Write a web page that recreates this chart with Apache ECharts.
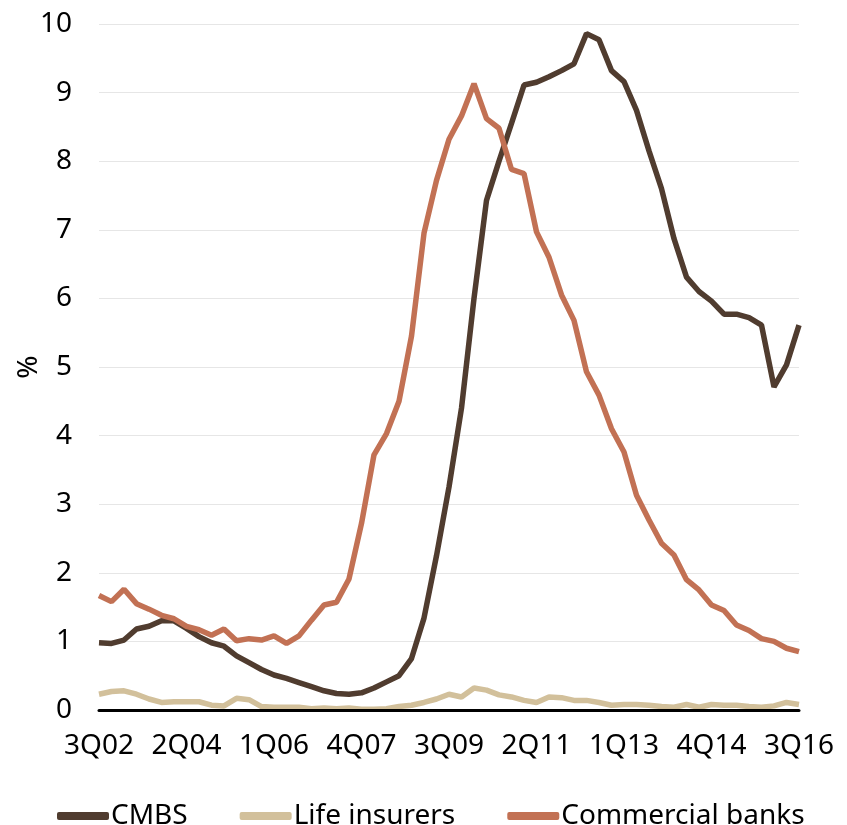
<!DOCTYPE html>
<html>
<head>
<meta charset="utf-8">
<script src="https://cdn.jsdelivr.net/npm/echarts@6/dist/echarts.min.js"></script>
<style>
  html, body { margin: 0; padding: 0; background: #ffffff; }
  #chart { width: 847px; height: 825px; }
</style>
</head>
<body>
<div id="chart"></div>
<script>
// Quarterly delinquency rates, 3Q02 – 3Q16 (%)
const quarters = (function () {
  const out = [];
  let q = 3, y = 2;
  for (let i = 0; i < 57; i++) {
    out.push(q + 'Q' + String(y).padStart(2, '0'));
    q++;
    if (q > 4) { q = 1; y++; }
  }
  return out;
})();

const cmbs = [
  0.98, 0.97, 1.02, 1.18, 1.22, 1.30, 1.30, 1.19, 1.07, 0.98,
  0.93, 0.79, 0.69, 0.59, 0.51, 0.46, 0.40, 0.34, 0.28, 0.24,
  0.23, 0.25, 0.32, 0.41, 0.50, 0.75, 1.34, 2.25, 3.25, 4.40,
  6.00, 7.43, 8.00, 8.55, 9.11, 9.15, 9.23, 9.32, 9.42, 9.86,
  9.77, 9.32, 9.16, 8.74, 8.15, 7.60, 6.87, 6.31, 6.10, 5.96,
  5.77, 5.77, 5.72, 5.61, 4.71, 5.03, 5.61
];

const lifeInsurers = [
  0.23, 0.27, 0.28, 0.23, 0.16, 0.11, 0.12, 0.12, 0.12, 0.07,
  0.06, 0.17, 0.15, 0.05, 0.04, 0.04, 0.04, 0.02, 0.03, 0.02,
  0.03, 0.01, 0.01, 0.02, 0.05, 0.07, 0.11, 0.16, 0.23, 0.19,
  0.32, 0.29, 0.22, 0.19, 0.14, 0.11, 0.19, 0.18, 0.14, 0.14,
  0.11, 0.07, 0.08, 0.08, 0.07, 0.05, 0.04, 0.08, 0.04, 0.08,
  0.07, 0.07, 0.05, 0.04, 0.06, 0.11, 0.08
];

const commercialBanks = [
  1.67, 1.58, 1.76, 1.55, 1.47, 1.38, 1.33, 1.22, 1.17, 1.09,
  1.18, 1.01, 1.04, 1.02, 1.08, 0.97, 1.08, 1.31, 1.53, 1.57,
  1.91, 2.72, 3.72, 4.03, 4.50, 5.45, 6.95, 7.72, 8.32, 8.66,
  9.13, 8.62, 8.48, 7.88, 7.82, 6.97, 6.60, 6.05, 5.68, 4.93,
  4.59, 4.10, 3.76, 3.13, 2.77, 2.43, 2.26, 1.90, 1.75, 1.53,
  1.45, 1.24, 1.16, 1.04, 1.00, 0.90, 0.85
];

const seriesNames = ['CMBS', 'Life insurers', 'Commercial banks'];
const seriesColors = ['#503c2f', '#d2c09b', '#c27154'];
const seriesData = [cmbs, lifeInsurers, commercialBanks];

const FONT = '"Noto Sans", "DejaVu Sans", sans-serif';
const FONT_SIZE = 28;

const chart = echarts.init(document.getElementById('chart'), null, { renderer: 'canvas' });

chart.setOption({
  animation: false,
  backgroundColor: '#ffffff',
  grid: { left: 99, right: 48, top: 24, bottom: 115, containLabel: false },
  legend: {
    top: 797,
    left: 52,
    itemWidth: 52,
    itemHeight: 8,
    itemGap: 52,
    icon: 'roundRect',
    textStyle: { fontFamily: FONT, fontSize: FONT_SIZE, color: '#000000', padding: [0, 0, 0, -3] },
    data: seriesNames
  },
  xAxis: {
    type: 'category',
    data: quarters,
    boundaryGap: false,
    z: 5,
    axisLine: { show: true, lineStyle: { color: '#000000', width: 3 } },
    axisTick: { show: false },
    axisLabel: {
      interval: 6,
      margin: 22,
      fontFamily: FONT,
      fontSize: FONT_SIZE,
      color: '#000000'
    },
    splitLine: { show: false }
  },
  yAxis: {
    type: 'value',
    min: 0,
    max: 10,
    interval: 1,
    name: '%',
    nameLocation: 'middle',
    nameRotate: 90,
    nameGap: 56,
    nameMoveOverlap: false,
    nameTextStyle: { fontFamily: FONT, fontSize: FONT_SIZE, color: '#000000' },
    axisLine: { show: false },
    axisTick: { show: false },
    axisLabel: {
      margin: 27,
      fontFamily: FONT,
      fontSize: FONT_SIZE,
      color: '#000000'
    },
    splitLine: { show: true, lineStyle: { color: '#e6e6e6', width: 1 } }
  },
  series: seriesNames.map((name, i) => ({
    name: name,
    type: 'line',
    data: seriesData[i],
    symbol: 'none',
    showSymbol: false,
    color: seriesColors[i],
    lineStyle: { width: 5.5, color: seriesColors[i] },
    itemStyle: { color: seriesColors[i] },
    emphasis: { disabled: true }
  }))
});
</script>
</body>
</html>
